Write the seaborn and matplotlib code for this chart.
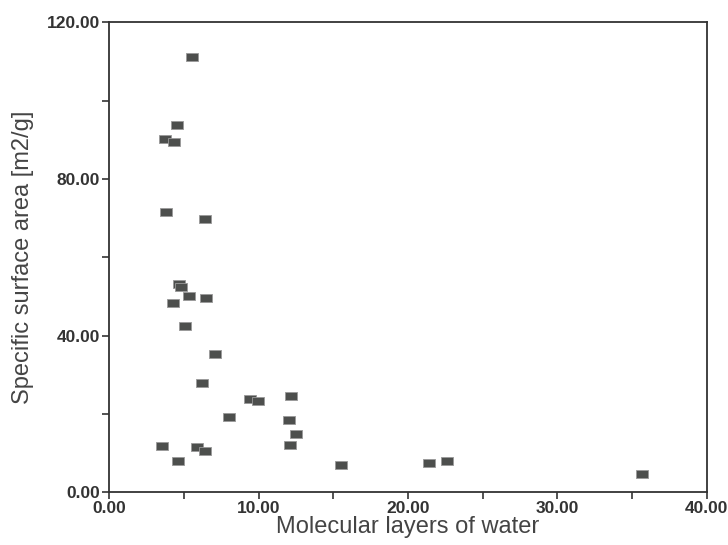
# scatter of specific surface area vs molecular layers of water
import matplotlib
matplotlib.use('Agg')
import matplotlib.pyplot as plt
import seaborn as sns
import pandas as pd
from matplotlib.ticker import MultipleLocator, FormatStrFormatter

# values
layers = [5.56, 3.75, 4.56, 4.36, 3.82, 6.43, 4.69, 4.82, 5.36, 6.50,
          4.29, 5.09, 7.10, 6.23, 8.04, 9.45, 9.98, 12.19, 12.06, 12.53,
          3.55, 5.90, 6.43, 12.13, 4.62, 15.48, 21.37, 22.58, 35.64]
area = [111.1, 90.2, 93.8, 89.4, 71.6, 69.8, 53.2, 52.5, 50.2, 49.7,
        48.4, 42.5, 35.2, 28.0, 19.1, 23.7, 23.2, 24.5, 18.3, 14.8,
        11.7, 11.5, 10.4, 12.0, 7.9, 6.9, 7.4, 7.9, 4.6]

df = pd.DataFrame({'layers': layers, 'area': area})

sns.set_style('white')
plt.rcParams['font.family'] = ['Liberation Sans', 'DejaVu Sans']

fig = plt.figure(figsize=(7.28, 5.45), dpi=100)
ax = fig.add_axes([0.150, 0.097, 0.821, 0.862])

# wide rectangular marker like the original
rect = [(-1.5, -1), (1.5, -1), (1.5, 1), (-1.5, 1), (-1.5, -1)]
sns.scatterplot(data=df, x='layers', y='area', ax=ax, marker=rect, s=72,
                color='#4d4f4d', edgecolor='#9a9a9a', linewidth=0.6)

ax.set_xlim(0, 40)
ax.set_ylim(0, 120)
ax.xaxis.set_major_locator(MultipleLocator(10))
ax.xaxis.set_minor_locator(MultipleLocator(5))
ax.yaxis.set_major_locator(MultipleLocator(40))
ax.yaxis.set_minor_locator(MultipleLocator(20))
ax.xaxis.set_major_formatter(FormatStrFormatter('%.2f'))
ax.yaxis.set_major_formatter(FormatStrFormatter('%.2f'))

for sp in ax.spines.values():
    sp.set_color('#333333')
    sp.set_linewidth(1.3)

ax.tick_params(which='both', direction='out', color='#333333', width=1.2,
               bottom=True, left=True, labelsize=12.5, labelcolor='#333333')
ax.tick_params(which='major', length=5, pad=1.5)
ax.tick_params(which='minor', length=5)
for lab in ax.get_xticklabels() + ax.get_yticklabels():
    lab.set_fontweight('bold')

ax.set_xlabel('Molecular layers of water', fontsize=17, color='#444444', labelpad=0)
ax.set_ylabel('Specific surface area [m2/g]', fontsize=17, color='#444444', labelpad=9)

fig.savefig('out.png', dpi=100)
